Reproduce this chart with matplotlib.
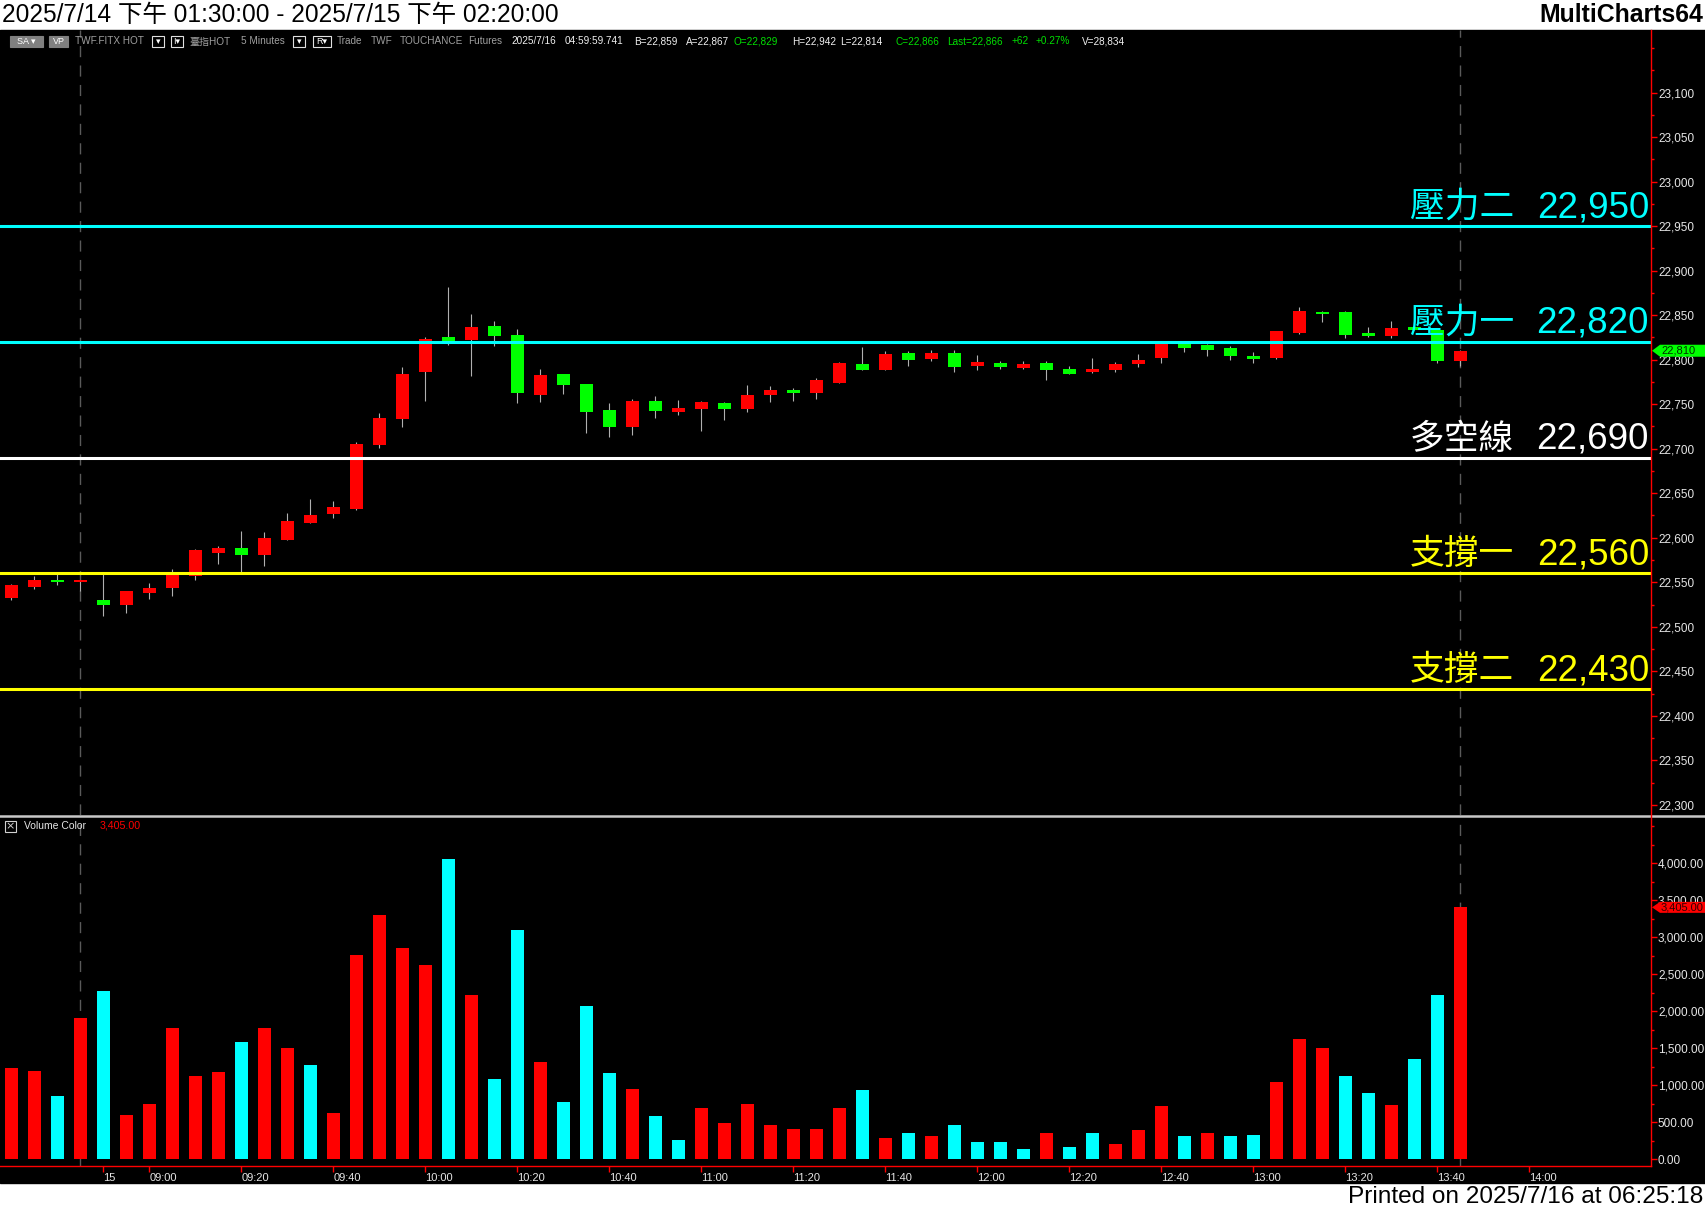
import matplotlib
matplotlib.use('Agg')
import matplotlib.pyplot as plt
from matplotlib import font_manager, transforms
from matplotlib.patches import Rectangle, Polygon
from matplotlib.lines import Line2D
from matplotlib.ticker import MultipleLocator
import numpy as np

# ---- data (5 minute bars, TX futures) ----
opens = [22532, 22545, 22552, 22550, 22530, 22525, 22538, 22543, 22557, 22583,
         22588, 22581, 22598, 22617, 22627, 22632, 22704, 22733, 22786, 22825,
         22822, 22838, 22828, 22760, 22784, 22773, 22743, 22724, 22753, 22741,
         22744, 22751, 22744, 22760, 22766, 22762, 22774, 22795, 22788, 22807,
         22801, 22808, 22793, 22796, 22791, 22796, 22789, 22786, 22788, 22795,
         22802, 22819, 22816, 22813, 22804, 22802, 22830, 22854, 22853, 22830,
         22826, 22837, 22833, 22798]
highs = [22548, 22557, 22559, 22552, 22559, 22540, 22549, 22565, 22587, 22591,
         22608, 22606, 22628, 22644, 22641, 22707, 22740, 22792, 22825, 22882,
         22851, 22843, 22834, 22789, 22784, 22773, 22751, 22756, 22759, 22755,
         22753, 22752, 22772, 22770, 22768, 22779, 22797, 22814, 22810, 22810,
         22811, 22811, 22805, 22798, 22798, 22799, 22793, 22802, 22797, 22806,
         22818, 22820, 22817, 22815, 22809, 22832, 22859, 22855, 22855, 22837,
         22843, 22843, 22835, 22811]
lows = [22530, 22542, 22547, 22540, 22512, 22515, 22531, 22535, 22552, 22570,
        22562, 22568, 22597, 22617, 22622, 22631, 22701, 22724, 22754, 22816,
        22782, 22815, 22751, 22752, 22761, 22718, 22713, 22715, 22735, 22738,
        22720, 22732, 22741, 22752, 22754, 22756, 22774, 22788, 22788, 22793,
        22799, 22786, 22788, 22790, 22790, 22777, 22784, 22785, 22786, 22792,
        22796, 22809, 22804, 22800, 22796, 22801, 22829, 22842, 22824, 22825,
        22824, 22833, 22796, 22793]
closes = [22547, 22552, 22550, 22552, 22524, 22540, 22543, 22559, 22586, 22588,
          22581, 22600, 22619, 22626, 22634, 22705, 22734, 22784, 22823, 22820,
          22837, 22827, 22762, 22783, 22772, 22741, 22724, 22754, 22742, 22746,
          22752, 22744, 22760, 22766, 22762, 22777, 22796, 22788, 22806, 22800,
          22808, 22792, 22797, 22792, 22795, 22788, 22784, 22789, 22795, 22800,
          22818, 22813, 22811, 22804, 22801, 22832, 22855, 22851, 22828, 22827,
          22836, 22833, 22798, 22810]
volumes = [1240, 1190, 850, 1910, 2280, 600, 750, 1770, 1130, 1180,
           1590, 1770, 1510, 1270, 630, 2760, 3300, 2860, 2630, 4060,
           2220, 1090, 3100, 1320, 780, 2070, 1170, 950, 590, 260,
           690, 490, 750, 460, 410, 410, 690, 930, 290, 360,
           310, 470, 240, 235, 140, 360, 160, 360, 210, 400,
           720, 320, 360, 310, 330, 1040, 1630, 1510, 1130, 900,
           740, 1350, 2220, 3405]
vol_dir = "rrcrcrrrrrcrrcrrrrrcrccrcccrccrrrrrrrcrcrccccrccrrrcrccrrrccrccr"

levels = [22950, 22820, 22690, 22560, 22430]
level_names = ['壓力二', '壓力一', '多空線', '支撐一', '支撐二']
level_colors = ['#00FFFF', '#00FFFF', '#FFFFFF', '#FFFF00', '#FFFF00']

time_ticks = [4] + list(range(6, 67, 4))
time_labels = ['15', '09:00', '09:20', '09:40', '10:00', '10:20', '10:40', '11:00',
               '11:20', '11:40', '12:00', '12:20', '12:40', '13:00', '13:20',
               '13:40', '14:00']

last_price = 22810
last_volume = 3405

# ---- fonts ----
names = {f.name for f in font_manager.fontManager.ttflist}
NARROW = 'Liberation Sans Narrow' if 'Liberation Sans Narrow' in names else 'Liberation Sans'
CJK = 'Noto Sans CJK TC'
plt.rcParams['font.family'] = ['Liberation Sans', CJK, 'DejaVu Sans']

W, H = 1705, 1211
def fx(x): return x / W
def fy(y): return 1 - y / H

fig = plt.figure(figsize=(W / 100, H / 100), dpi=100, facecolor='white')
renderer = fig.canvas.get_renderer()

def fit(t, width):
    bb = t.get_window_extent(renderer=renderer)
    t.set_fontsize(t.get_fontsize() * width / bb.width)

# black chart area
fig.add_artist(Rectangle((0, fy(1183)), 1, fy(30) - fy(1183), transform=fig.transFigure,
                         color='black', zorder=0))

ax1 = fig.add_axes([0, fy(815), fx(1651), (815 - 30) / H])
ax2 = fig.add_axes([0, fy(1166), fx(1651), (1166 - 817) / H])
for ax in (ax1, ax2):
    ax.set_facecolor('black')
    for s in ax.spines.values():
        s.set_visible(False)
    ax.set_xlim(-0.49, 71.29)
    ax.axvline(3, color='#5A5A5A', lw=1, ls=(0, (8, 6)), zorder=1)
    ax.axvline(63, color='#5A5A5A', lw=1, ls=(0, (8, 6)), zorder=1)
ax1.set_ylim(22288.6, 23170.2)
ax2.set_ylim(-90.5, 4626)

x = np.arange(len(opens))
o = np.array(opens); c = np.array(closes)
cols = np.where(c >= o, '#FF0000', '#00FF00')
ax1.vlines(x, lows, highs, color='#B0B0B0', lw=0.8, zorder=2)
ax1.bar(x, np.maximum(np.abs(c - o), 2.5), bottom=np.minimum(o, c), width=0.57,
        color=cols, linewidth=0, zorder=3)

# support / resistance lines with labels (name and number placed separately)
base_tr = transforms.blended_transform_factory(ax1.transAxes, ax1.transData)
num_tr = transforms.offset_copy(base_tr, fig=fig, x=-2, y=9, units='dots')
name_tr = transforms.offset_copy(base_tr, fig=fig, x=-137, y=9, units='dots')
for lv, nm, col in zip(levels, level_names, level_colors):
    ax1.axhline(lv, color=col, lw=2.2, zorder=4)
    ax1.text(1.0, lv, f'{lv:,}', transform=num_tr, ha='right', va='baseline',
             color=col, fontsize=26.5, family='Liberation Sans', zorder=6)
    ax1.text(1.0, lv, nm, transform=name_tr, ha='right', va='baseline',
             color=col, fontsize=25, family=[CJK], zorder=6)

# volume bars
vcols = ['#FF0000' if d == 'r' else '#00FFFF' for d in vol_dir]
ax2.bar(x, volumes, width=0.57, color=vcols, linewidth=0, zorder=3)

# axes ticks
ax1.yaxis.tick_right()
pt = np.arange(22300, 23101, 50)
ax1.set_yticks(pt)
ax1.set_yticklabels([f'{v:,}' for v in pt])
ax1.yaxis.set_minor_locator(MultipleLocator(25))
ax1.tick_params(axis='y', which='both', colors='#FF0000', labelcolor='#E6E6E6',
                length=4, width=1, pad=1, labelsize=8.5)
ax1.tick_params(axis='y', which='minor', length=2)
ax1.tick_params(axis='x', bottom=False, labelbottom=False)

ax2.yaxis.tick_right()
vt = np.arange(0, 4001, 500)
ax2.set_yticks(vt)
ax2.set_yticklabels([f'{v:,.2f}' for v in vt])
ax2.yaxis.set_minor_locator(MultipleLocator(250))
ax2.tick_params(axis='y', which='both', colors='#FF0000', labelcolor='#E6E6E6',
                length=4, width=1, pad=1, labelsize=8.5)
ax2.tick_params(axis='y', which='minor', length=2)
ax2.set_xticks(time_ticks)
ax2.set_xticklabels(time_labels)
ax2.tick_params(axis='x', colors='#FF0000', labelcolor='#E6E6E6', length=4, width=1,
                pad=1, labelsize=8)
for lbl in ax2.get_xticklabels():
    lbl.set_ha('left')
    lbl.set_family(NARROW)

# frame lines
fig.add_artist(Line2D([0, 1], [fy(815.5)] * 2, transform=fig.transFigure,
                      color='#C8C8C8', lw=1.8))
fig.add_artist(Line2D([fx(1651)] * 2, [fy(30), fy(1166)], transform=fig.transFigure,
                      color='#FF0000', lw=1))
fig.add_artist(Line2D([0, fx(1651)], [fy(1166)] * 2, transform=fig.transFigure,
                      color='#FF0000', lw=1))

# last value markers on the axes
def marker(ax, val, fc, tc, label, half):
    yp = ax.transData.transform((0, val))[1]
    yt = H - yp
    pts = [(1652, yt), (1660, yt - half), (1705, yt - half), (1705, yt + half), (1660, yt + half)]
    fig.add_artist(Polygon([(fx(a), fy(b)) for a, b in pts], closed=True,
                           transform=fig.transFigure, facecolor=fc, edgecolor='none', zorder=5))
    fig.text(fx(1661), fy(yt), label, ha='left', va='center', color=tc, fontsize=8, zorder=6)

marker(ax1, last_price, '#00FF00', '#003000', f'{last_price:,}', 6)
marker(ax2, last_volume, '#FF0000', '#300000', f'{last_volume:,.2f}', 5.5)

# volume panel header
fig.add_artist(Rectangle((fx(5), fy(832)), fx(11), 11 / H, transform=fig.transFigure,
                         facecolor='none', edgecolor='#D0D0D0', lw=0.8))
fig.text(fx(10.5), fy(826.5), '×', ha='center', va='center', color='#D0D0D0',
         fontsize=8, family='DejaVu Sans')
t = fig.text(fx(24), fy(826), 'Volume Color', ha='left', va='center', color='#E6E6E6',
             fontsize=8, family=NARROW)
fit(t, 63)
t = fig.text(fx(100), fy(826), '3,405.00', ha='left', va='center', color='#FF0000',
             fontsize=8, family=NARROW)
fit(t, 41)

# title bar & footer
t = fig.text(fx(2), fy(15), '2025/7/14 下午 01:30:00 - 2025/7/15 下午 02:20:00',
             ha='left', va='center', fontsize=20, family=[NARROW, CJK], color='black')
fit(t, 557)
t = fig.text(fx(1703), fy(15), 'MultiCharts64', ha='right', va='center', fontsize=20,
             weight='bold', family=NARROW, color='black')
fit(t, 164)
t = fig.text(fx(1703), fy(1197), 'Printed on 2025/7/16 at 06:25:18', ha='right',
             va='center', fontsize=20, family=NARROW, color='black')
fit(t, 355)

# info bar
probe = fig.text(0, 0, 'TWF.FITX HOT', fontsize=9, family=NARROW)
fit(probe, 69)
fs = probe.get_fontsize()
probe.remove()

def box(x0, x1, label, fill):
    fc = '#808080' if fill else 'black'
    ec = '#808080' if fill else '#E0E0E0'
    fig.add_artist(Rectangle((fx(x0), fy(47)), fx(x1 - x0), 11 / H, transform=fig.transFigure,
                             facecolor=fc, edgecolor=ec, lw=0.8))
    fig.text(fx((x0 + x1) / 2), fy(41.5), label, ha='center', va='center', color='white',
             fontsize=fs * 0.9, family=[NARROW, 'DejaVu Sans'])

box(10, 43, 'SA ▾', True)
box(49, 68, 'VP', True)
box(152, 164, '▾', False)
box(171, 183, 'I▾', False)
box(293, 305, '▾', False)
box(313, 331, 'R▾', False)

tokens = [('TWF.FITX HOT', 75, '#A0A0A0'), ('臺指HOT', 189, '#A0A0A0'),
          ('5 Minutes', 241, '#A0A0A0'), ('Trade', 337, '#A0A0A0'),
          ('TWF', 371, '#A0A0A0'), ('TOUCHANCE', 399.5, '#A0A0A0'),
          ('Futures', 468, '#A0A0A0'), ('2025/7/16', 511, '#F0F0F0'),
          ('04:59:59.741', 565, '#F0F0F0'), ('B=22,859', 634, '#F0F0F0'),
          ('A=22,867', 686, '#F0F0F0'), ('O=22,829', 733, '#00E000'),
          ('H=22,942', 792, '#F0F0F0'), ('L=22,814', 840, '#F0F0F0'),
          ('C=22,866', 896, '#00E000'), ('Last=22,866', 947, '#00E000'),
          ('+62', 1012, '#00E000'), ('+0.27%', 1036, '#00E000'),
          ('V=28,834', 1082, '#F0F0F0')]
for txt, x0, col in tokens:
    fig.text(fx(x0), fy(41.5), txt, ha='left', va='center', color=col, fontsize=fs,
             family=[NARROW, CJK])

fig.savefig('out.png', dpi=100, facecolor='white')
